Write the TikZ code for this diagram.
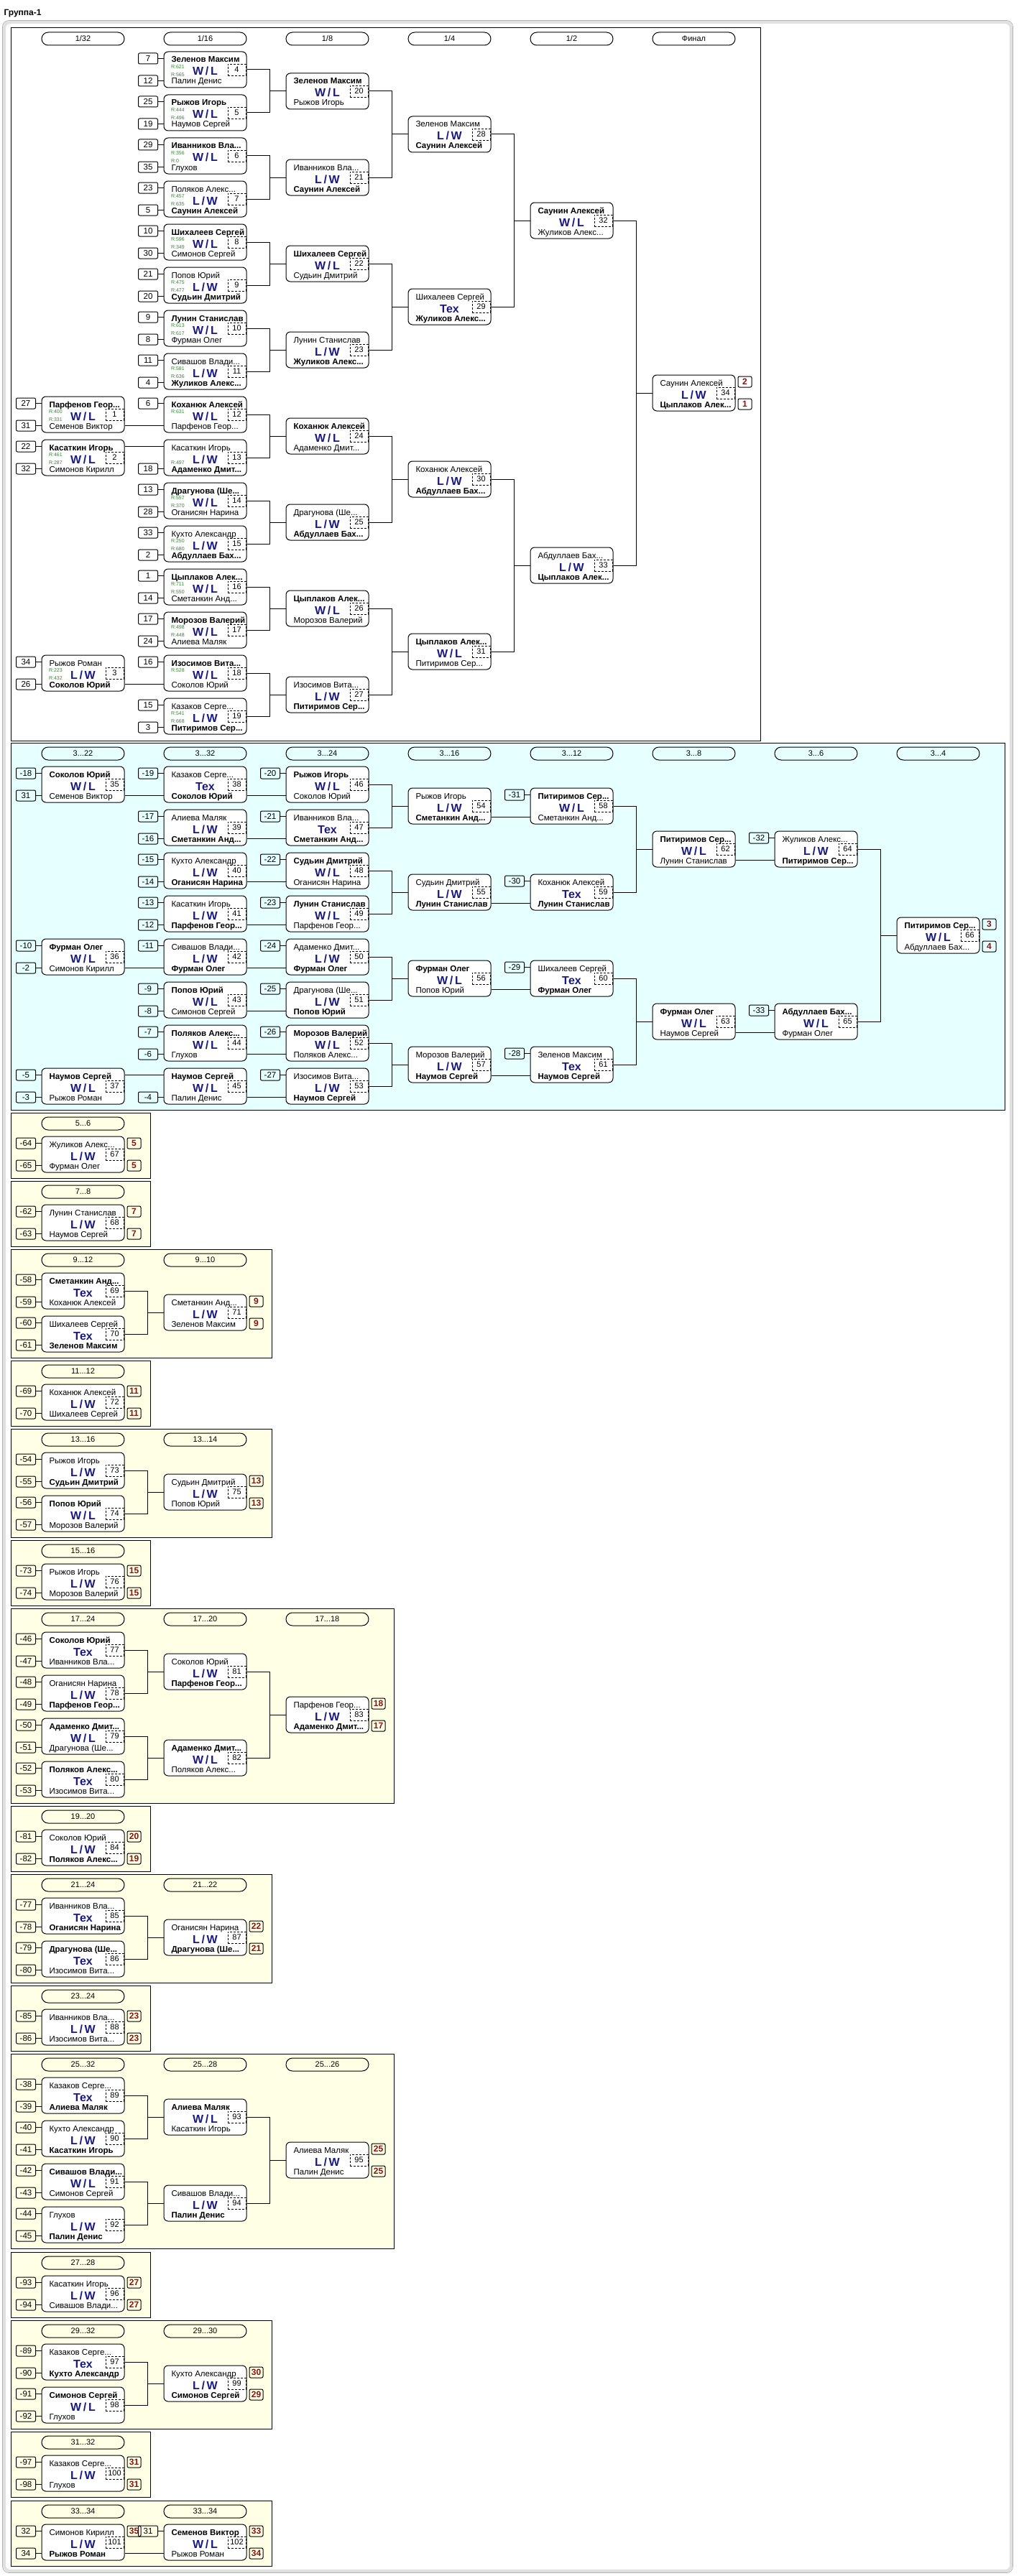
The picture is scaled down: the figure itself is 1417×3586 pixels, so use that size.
\documentclass[tikz,border=0pt]{standalone}
\usepackage{fontspec}
\setmainfont{Liberation Sans}
\definecolor{navy}{HTML}{1A1A80}
\definecolor{rgreen}{HTML}{2E8B2E}
\definecolor{placered}{HTML}{8B1010}
\definecolor{cyanbg}{HTML}{E6FFFF}
\definecolor{creambg}{HTML}{FFFFE6}
\tikzset{
 mbox/.style={draw,fill=white,rounded corners=6pt,minimum width=115pt,minimum height=50pt,inner sep=0pt},
 pname/.style={anchor=base west,inner sep=0pt,font=\fontsize{11.5}{13}\selectfont},
 pres/.style={anchor=base,inner sep=0pt,text=navy,font=\fontsize{16}{18}\selectfont\bfseries},
 mnum/.style={draw,densely dashed,line width=.8pt,minimum width=25pt,minimum height=16pt,inner sep=0pt,font=\fontsize{11}{13}\selectfont},
 seedbox/.style={draw,rounded corners=2pt,minimum width=27pt,minimum height=15pt,inner sep=0pt,font=\fontsize{11.5}{13}\selectfont},
 placebox/.style={draw,rounded corners=2pt,minimum width=19pt,minimum height=15pt,inner sep=0pt,text=placered,font=\fontsize{12}{14}\selectfont\bfseries},
 rating/.style={anchor=base west,inner sep=0pt,text=rgreen,font=\fontsize{7}{8}\selectfont},
 roundhead/.style={draw,rounded corners=9pt,minimum width=115pt,minimum height=18pt,inner sep=0pt,font=\fontsize{11}{13}\selectfont},
 sectbox/.style={draw,line width=1pt},
 wire/.style={draw,line width=1pt}
}
\newcommand\WL{W\,/\,L}
\newcommand\LW{L\,/\,W}
\newcommand\duel[6]{%
  \pgfmathsetmacro\mleft{58+170*#2}%
  \node[mbox] (m#1) at (\mleft+57.5,#3+25) {};
  \node[pname] (m#1a) at (\mleft+10,#3+15) {#4};
  \node[pres] (m#1r) at (\mleft+57.5,#3+33) {#5};
  \node[pname] (m#1b) at (\mleft+10,#3+45) {#6};
  \node[mnum] (m#1n) at (\mleft+101.5,#3+25) {#1};
}
\newcommand\roundhdr[3]{\node[roundhead] (hd#2x#1) at (58+170*#1+57.5,#2+15) {#3};}
\newcommand\seedup[2]{\node[seedbox] (s#1u) at ([xshift=-21.5pt,yshift=-10pt]m#1.north west) {#2};
  \draw[wire] (s#1u) -- (s#1u -| m#1.west);}
\newcommand\seeddn[2]{\node[seedbox] (s#1d) at ([xshift=-21.5pt,yshift=10pt]m#1.south west) {#2};
  \draw[wire] (s#1d) -- (s#1d -| m#1.west);}
\newcommand\rateup[2]{\node[rating] (r#1u) at ([xshift=10pt,yshift=-24pt]m#1.north west) {R:#2};}
\newcommand\ratedn[2]{\node[rating] (r#1d) at ([xshift=10pt,yshift=-35pt]m#1.north west) {R:#2};}
\newcommand\placeup[2]{\node[placebox,anchor=north west] (p#1u) at ([xshift=3pt,yshift=-2pt]m#1.north east) {#2};}
\newcommand\placedn[2]{\node[placebox,anchor=south west] (p#1d) at ([xshift=3pt,yshift=2pt]m#1.south east) {#2};}
\newcommand\linkup[2]{\draw[wire] ([yshift=-10pt]m#1.north east) -- ([yshift=-10pt]m#2.north west);}
\newcommand\linkdn[2]{\draw[wire] ([yshift=10pt]m#1.south east) -- ([yshift=10pt]m#2.south west);}
\newcommand\fork[3]{\draw[wire] (m#1.east) -- ++(32,0) |- (m#3.west);
  \draw[wire] (m#2.east) -- ++(32,0) |- (m#3.west);}
\begin{document}
\begin{tikzpicture}[x=1pt,y=-1pt,line width=1pt]
  \useasboundingbox (0,0) rectangle (1417,3586);
  \node[font=\bfseries\fontsize{12}{14}\selectfont,anchor=base west,inner sep=0pt] (title) at (5,22) {Группа-1};
  \draw[rounded corners=8pt,line width=4pt,black!12] (6,31) rectangle (1407,3579);
  \draw[rounded corners=9pt,line width=.8pt,black!30] (3.5,28.5) rectangle (1409.5,3581.5);

  \draw[sectbox,fill=white] (15,39) rectangle (1058,1031);
  \draw[sectbox,fill=cyanbg] (15,1034) rectangle (1398,1545);
  \foreach \t/\r/\h in {1549/209/91,1644/209/91,1739/378/151,1894/209/91,1989/378/151,2144/209/91,
      2239/548/271,2514/209/91,2609/378/151,2764/209/91,2859/548/271,3135/209/91,3230/378/151,
      3385/209/91,3481/378/91}
    \draw[sectbox,fill=creambg] (15,\t) rectangle (\r,\t+\h);

  \roundhdr{0}{39}{1/32} \roundhdr{1}{39}{1/16} \roundhdr{2}{39}{1/8}
  \roundhdr{3}{39}{1/4} \roundhdr{4}{39}{1/2} \roundhdr{5}{39}{Финал}
  \roundhdr{0}{1034}{3...22} \roundhdr{1}{1034}{3...32} \roundhdr{2}{1034}{3...24} \roundhdr{3}{1034}{3...16}
  \roundhdr{4}{1034}{3...12} \roundhdr{5}{1034}{3...8} \roundhdr{6}{1034}{3...6} \roundhdr{7}{1034}{3...4}
  \roundhdr{0}{1549}{5...6} \roundhdr{0}{1644}{7...8}
  \roundhdr{0}{1739}{9...12} \roundhdr{1}{1739}{9...10} \roundhdr{0}{1894}{11...12}
  \roundhdr{0}{1989}{13...16} \roundhdr{1}{1989}{13...14} \roundhdr{0}{2144}{15...16}
  \roundhdr{0}{2239}{17...24} \roundhdr{1}{2239}{17...20} \roundhdr{2}{2239}{17...18}
  \roundhdr{0}{2514}{19...20} \roundhdr{0}{2609}{21...24} \roundhdr{1}{2609}{21...22}
  \roundhdr{0}{2764}{23...24}
  \roundhdr{0}{2859}{25...32} \roundhdr{1}{2859}{25...28} \roundhdr{2}{2859}{25...26}
  \roundhdr{0}{3135}{27...28} \roundhdr{0}{3230}{29...32} \roundhdr{1}{3230}{29...30}
  \roundhdr{0}{3385}{31...32} \roundhdr{0}{3481}{33...34} \roundhdr{1}{3481}{33...34}

  \duel{1}{0}{552}{\textbf{Парфенов Геор...}}{\WL}{Семенов Виктор}
  \duel{2}{0}{612}{\textbf{Касаткин Игорь}}{\WL}{Симонов Кирилл}
  \duel{3}{0}{912}{Рыжов Роман}{\LW}{\textbf{Соколов Юрий}}
  \duel{4}{1}{72}{\textbf{Зеленов Максим}}{\WL}{Палин Денис}
  \duel{5}{1}{132}{\textbf{Рыжов Игорь}}{\WL}{Наумов Сергей}
  \duel{6}{1}{192}{\textbf{Иванников Вла...}}{\WL}{Глухов}
  \duel{7}{1}{252}{Поляков Алекс...}{\LW}{\textbf{Саунин Алексей}}
  \duel{8}{1}{312}{\textbf{Шихалеев Сергей}}{\WL}{Симонов Сергей}
  \duel{9}{1}{372}{Попов Юрий}{\LW}{\textbf{Судьин Дмитрий}}
  \duel{10}{1}{432}{\textbf{Лунин Станислав}}{\WL}{Фурман Олег}
  \duel{11}{1}{492}{Сивашов Влади...}{\LW}{\textbf{Жуликов Алекс...}}
  \duel{12}{1}{552}{\textbf{Коханюк Алексей}}{\WL}{Парфенов Геор...}
  \duel{13}{1}{612}{Касаткин Игорь}{\LW}{\textbf{Адаменко Дмит...}}
  \duel{14}{1}{672}{\textbf{Драгунова (Ше...}}{\WL}{Оганисян Нарина}
  \duel{15}{1}{732}{Кухто Александр}{\LW}{\textbf{Абдуллаев Бах...}}
  \duel{16}{1}{792}{\textbf{Цыплаков Алек...}}{\WL}{Сметанкин Анд...}
  \duel{17}{1}{852}{\textbf{Морозов Валерий}}{\WL}{Алиева Маляк}
  \duel{18}{1}{912}{\textbf{Изосимов Вита...}}{\WL}{Соколов Юрий}
  \duel{19}{1}{972}{Казаков Серге...}{\LW}{\textbf{Питиримов Сер...}}
  \duel{20}{2}{102}{\textbf{Зеленов Максим}}{\WL}{Рыжов Игорь}
  \duel{21}{2}{222}{Иванников Вла...}{\LW}{\textbf{Саунин Алексей}}
  \duel{22}{2}{342}{\textbf{Шихалеев Сергей}}{\WL}{Судьин Дмитрий}
  \duel{23}{2}{462}{Лунин Станислав}{\LW}{\textbf{Жуликов Алекс...}}
  \duel{24}{2}{582}{\textbf{Коханюк Алексей}}{\WL}{Адаменко Дмит...}
  \duel{25}{2}{702}{Драгунова (Ше...}{\LW}{\textbf{Абдуллаев Бах...}}
  \duel{26}{2}{822}{\textbf{Цыплаков Алек...}}{\WL}{Морозов Валерий}
  \duel{27}{2}{942}{Изосимов Вита...}{\LW}{\textbf{Питиримов Сер...}}
  \duel{28}{3}{162}{Зеленов Максим}{\LW}{\textbf{Саунин Алексей}}
  \duel{29}{3}{402}{Шихалеев Сергей}{Тех}{\textbf{Жуликов Алекс...}}
  \duel{30}{3}{642}{Коханюк Алексей}{\LW}{\textbf{Абдуллаев Бах...}}
  \duel{31}{3}{882}{\textbf{Цыплаков Алек...}}{\WL}{Питиримов Сер...}
  \duel{32}{4}{282}{\textbf{Саунин Алексей}}{\WL}{Жуликов Алекс...}
  \duel{33}{4}{762}{Абдуллаев Бах...}{\LW}{\textbf{Цыплаков Алек...}}
  \duel{34}{5}{522}{Саунин Алексей}{\LW}{\textbf{Цыплаков Алек...}}

  \duel{35}{0}{1067}{\textbf{Соколов Юрий}}{\WL}{Семенов Виктор}
  \duel{36}{0}{1307}{\textbf{Фурман Олег}}{\WL}{Симонов Кирилл}
  \duel{37}{0}{1487}{\textbf{Наумов Сергей}}{\WL}{Рыжов Роман}
  \duel{38}{1}{1067}{Казаков Серге...}{Тех}{\textbf{Соколов Юрий}}
  \duel{39}{1}{1127}{Алиева Маляк}{\LW}{\textbf{Сметанкин Анд...}}
  \duel{40}{1}{1187}{Кухто Александр}{\LW}{\textbf{Оганисян Нарина}}
  \duel{41}{1}{1247}{Касаткин Игорь}{\LW}{\textbf{Парфенов Геор...}}
  \duel{42}{1}{1307}{Сивашов Влади...}{\LW}{\textbf{Фурман Олег}}
  \duel{43}{1}{1367}{\textbf{Попов Юрий}}{\WL}{Симонов Сергей}
  \duel{44}{1}{1427}{\textbf{Поляков Алекс...}}{\WL}{Глухов}
  \duel{45}{1}{1487}{\textbf{Наумов Сергей}}{\WL}{Палин Денис}
  \duel{46}{2}{1067}{\textbf{Рыжов Игорь}}{\WL}{Соколов Юрий}
  \duel{47}{2}{1127}{Иванников Вла...}{Тех}{\textbf{Сметанкин Анд...}}
  \duel{48}{2}{1187}{\textbf{Судьин Дмитрий}}{\WL}{Оганисян Нарина}
  \duel{49}{2}{1247}{\textbf{Лунин Станислав}}{\WL}{Парфенов Геор...}
  \duel{50}{2}{1307}{Адаменко Дмит...}{\LW}{\textbf{Фурман Олег}}
  \duel{51}{2}{1367}{Драгунова (Ше...}{\LW}{\textbf{Попов Юрий}}
  \duel{52}{2}{1427}{\textbf{Морозов Валерий}}{\WL}{Поляков Алекс...}
  \duel{53}{2}{1487}{Изосимов Вита...}{\LW}{\textbf{Наумов Сергей}}
  \duel{54}{3}{1097}{Рыжов Игорь}{\LW}{\textbf{Сметанкин Анд...}}
  \duel{55}{3}{1217}{Судьин Дмитрий}{\LW}{\textbf{Лунин Станислав}}
  \duel{56}{3}{1337}{\textbf{Фурман Олег}}{\WL}{Попов Юрий}
  \duel{57}{3}{1457}{Морозов Валерий}{\LW}{\textbf{Наумов Сергей}}
  \duel{58}{4}{1097}{\textbf{Питиримов Сер...}}{\WL}{Сметанкин Анд...}
  \duel{59}{4}{1217}{Коханюк Алексей}{Тех}{\textbf{Лунин Станислав}}
  \duel{60}{4}{1337}{Шихалеев Сергей}{Тех}{\textbf{Фурман Олег}}
  \duel{61}{4}{1457}{Зеленов Максим}{Тех}{\textbf{Наумов Сергей}}
  \duel{62}{5}{1157}{\textbf{Питиримов Сер...}}{\WL}{Лунин Станислав}
  \duel{63}{5}{1397}{\textbf{Фурман Олег}}{\WL}{Наумов Сергей}
  \duel{64}{6}{1157}{Жуликов Алекс...}{\LW}{\textbf{Питиримов Сер...}}
  \duel{65}{6}{1397}{\textbf{Абдуллаев Бах...}}{\WL}{Фурман Олег}
  \duel{66}{7}{1277}{\textbf{Питиримов Сер...}}{\WL}{Абдуллаев Бах...}

  \duel{67}{0}{1582}{Жуликов Алекс...}{\LW}{Фурман Олег}
  \duel{68}{0}{1677}{Лунин Станислав}{\LW}{Наумов Сергей}
  \duel{69}{0}{1772}{\textbf{Сметанкин Анд...}}{Тех}{Коханюк Алексей}
  \duel{70}{0}{1832}{Шихалеев Сергей}{Тех}{\textbf{Зеленов Максим}}
  \duel{71}{1}{1802}{Сметанкин Анд...}{\LW}{Зеленов Максим}
  \duel{72}{0}{1927}{Коханюк Алексей}{\LW}{Шихалеев Сергей}
  \duel{73}{0}{2022}{Рыжов Игорь}{\LW}{\textbf{Судьин Дмитрий}}
  \duel{74}{0}{2082}{\textbf{Попов Юрий}}{\WL}{Морозов Валерий}
  \duel{75}{1}{2052}{Судьин Дмитрий}{\LW}{Попов Юрий}
  \duel{76}{0}{2177}{Рыжов Игорь}{\LW}{Морозов Валерий}
  \duel{77}{0}{2272}{\textbf{Соколов Юрий}}{Тех}{Иванников Вла...}
  \duel{78}{0}{2332}{Оганисян Нарина}{\LW}{\textbf{Парфенов Геор...}}
  \duel{79}{0}{2392}{\textbf{Адаменко Дмит...}}{\WL}{Драгунова (Ше...}
  \duel{80}{0}{2452}{\textbf{Поляков Алекс...}}{Тех}{Изосимов Вита...}
  \duel{81}{1}{2302}{Соколов Юрий}{\LW}{\textbf{Парфенов Геор...}}
  \duel{82}{1}{2422}{\textbf{Адаменко Дмит...}}{\WL}{Поляков Алекс...}
  \duel{83}{2}{2362}{Парфенов Геор...}{\LW}{\textbf{Адаменко Дмит...}}
  \duel{84}{0}{2547}{Соколов Юрий}{\LW}{\textbf{Поляков Алекс...}}
  \duel{85}{0}{2642}{Иванников Вла...}{Тех}{\textbf{Оганисян Нарина}}
  \duel{86}{0}{2702}{\textbf{Драгунова (Ше...}}{Тех}{Изосимов Вита...}
  \duel{87}{1}{2672}{Оганисян Нарина}{\LW}{\textbf{Драгунова (Ше...}}
  \duel{88}{0}{2797}{Иванников Вла...}{\LW}{Изосимов Вита...}
  \duel{89}{0}{2892}{Казаков Серге...}{Тех}{\textbf{Алиева Маляк}}
  \duel{90}{0}{2952}{Кухто Александр}{\LW}{\textbf{Касаткин Игорь}}
  \duel{91}{0}{3012}{\textbf{Сивашов Влади...}}{\WL}{Симонов Сергей}
  \duel{92}{0}{3072}{Глухов}{\LW}{\textbf{Палин Денис}}
  \duel{93}{1}{2922}{\textbf{Алиева Маляк}}{\WL}{Касаткин Игорь}
  \duel{94}{1}{3042}{Сивашов Влади...}{\LW}{\textbf{Палин Денис}}
  \duel{95}{2}{2982}{Алиева Маляк}{\LW}{Палин Денис}
  \duel{96}{0}{3168}{Касаткин Игорь}{\LW}{Сивашов Влади...}
  \duel{97}{0}{3263}{Казаков Серге...}{Тех}{\textbf{Кухто Александр}}
  \duel{98}{0}{3323}{\textbf{Симонов Сергей}}{\WL}{Глухов}
  \duel{99}{1}{3293}{Кухто Александр}{\LW}{\textbf{Симонов Сергей}}
  \duel{100}{0}{3418}{Казаков Серге...}{\LW}{Глухов}
  \duel{101}{0}{3514}{Симонов Кирилл}{\LW}{\textbf{Рыжов Роман}}
  \duel{102}{1}{3514}{\textbf{Семенов Виктор}}{\WL}{Рыжов Роман}

  \foreach \m/\t/\b in {1/27/31,2/22/32,3/34/26,4/7/12,5/25/19,6/29/35,7/23/5,8/10/30,9/21/20,10/9/8,
      11/11/4,14/13/28,15/33/2,16/1/14,17/17/24,19/15/3,35/-18/31,36/-10/-2,37/-5/-3,39/-17/-16,
      40/-15/-14,41/-13/-12,43/-9/-8,44/-7/-6,67/-64/-65,68/-62/-63,69/-58/-59,70/-60/-61,72/-69/-70,
      73/-54/-55,74/-56/-57,76/-73/-74,77/-46/-47,78/-48/-49,79/-50/-51,80/-52/-53,84/-81/-82,
      85/-77/-78,86/-79/-80,88/-85/-86,89/-38/-39,90/-40/-41,91/-42/-43,92/-44/-45,96/-93/-94,
      97/-89/-90,98/-91/-92,100/-97/-98,101/32/34}
    {\seedup{\m}{\t}\seeddn{\m}{\b}}
  \foreach \m/\t in {12/6,18/16,38/-19,42/-11,46/-20,47/-21,48/-22,49/-23,50/-24,51/-25,52/-26,
      53/-27,58/-31,59/-30,60/-29,61/-28,64/-32,65/-33,102/31}
    {\seedup{\m}{\t}}
  \foreach \m/\b in {13/18,45/-4}
    {\seeddn{\m}{\b}}

  \foreach \m/\t/\b in {1/400/331,2/461/287,3/223/432,4/621/565,5/444/496,6/356/0,7/457/635,
      8/596/349,9/475/477,10/613/617,11/581/636,14/557/370,15/250/680,16/711/550,17/498/448,19/541/668}
    {\rateup{\m}{\t}\ratedn{\m}{\b}}
  \rateup{12}{631} \rateup{18}{528} \ratedn{13}{497}

  \foreach \m/\t/\b in {34/2/1,66/3/4,67/5/5,68/7/7,71/9/9,72/11/11,75/13/13,76/15/15,83/18/17,
      84/20/19,87/22/21,88/23/23,95/25/25,96/27/27,99/30/29,100/31/31,102/33/34}
    {\placeup{\m}{\t}\placedn{\m}{\b}}
  \placeup{101}{35}

  \foreach \a/\b in {1/12,3/18,35/38,36/42,38/46,39/47,40/48,41/49,42/50,43/51,44/52,45/53,
      54/58,55/59,56/60,57/61,62/64,63/65,101/102}
    \linkdn{\a}{\b};
  \linkup{2}{13} \linkup{37}{45}
  \foreach \a/\b/\c in {4/5/20,6/7/21,8/9/22,10/11/23,12/13/24,14/15/25,16/17/26,18/19/27,
      20/21/28,22/23/29,24/25/30,26/27/31,28/29/32,30/31/33,32/33/34,46/47/54,48/49/55,50/51/56,
      52/53/57,58/59/62,60/61/63,64/65/66,69/70/71,73/74/75,77/78/81,79/80/82,81/82/83,85/86/87,
      89/90/93,91/92/94,93/94/95,97/98/99}
    \fork{\a}{\b}{\c};
\end{tikzpicture}
\end{document}
